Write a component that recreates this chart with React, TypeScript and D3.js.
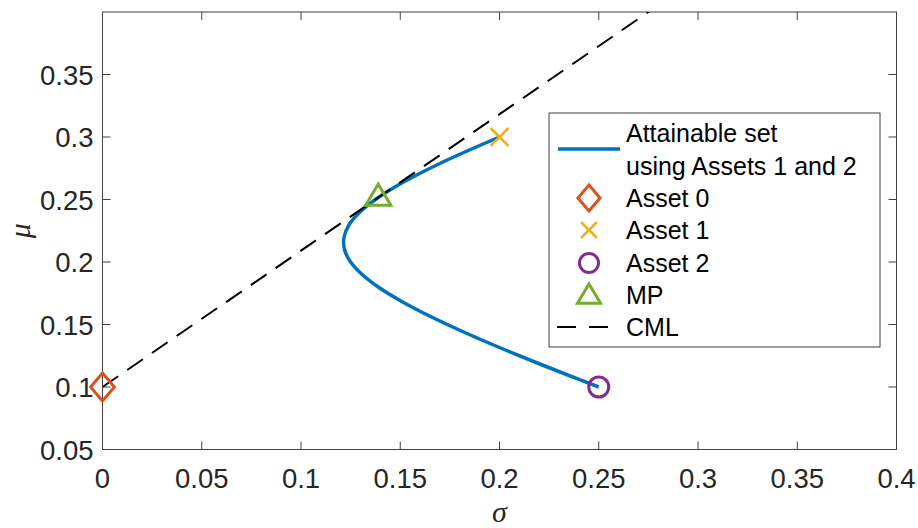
import * as d3 from "d3";

// attainable set: sigma / mu pairs
const curveSigma = [0.25, 0.2337, 0.2178, 0.2024, 0.1876, 0.1737, 0.1607, 0.149, 0.1389, 0.1308, 0.125,
  0.1219, 0.1217, 0.1243, 0.1297, 0.1375, 0.1473, 0.1588, 0.1715, 0.1854, 0.2];
const curveMu = [0.1, 0.11, 0.12, 0.13, 0.14, 0.15, 0.16, 0.17, 0.18, 0.19, 0.2,
  0.21, 0.22, 0.23, 0.24, 0.25, 0.26, 0.27, 0.28, 0.29, 0.3];

const asset0 = [0, 0.1];
const asset1 = [0.2, 0.3];
const asset2 = [0.25, 0.1];
const mp = [0.1389, 0.2515];
const cmlSigma = [0, 0.4];
const cmlMu = [0.1, 0.5364];

const xTicks = [0, 0.05, 0.1, 0.15, 0.2, 0.25, 0.3, 0.35, 0.4];
const yTicks = [0.05, 0.1, 0.15, 0.2, 0.25, 0.3, 0.35];

const legendLabels = ["Attainable set", "using Assets 1 and 2", "Asset 0", "Asset 1", "Asset 2", "MP", "CML"];

const W = 918, H = 528;
const left = 102.5, right = 896.5, top = 12, bottom = 449.5;
const axisColor = "#404040";
const font = "'Liberation Sans', Arial, Helvetica, sans-serif";

const blue = "#0072BD", orange = "#D95319", yellow = "#EDB120", purple = "#7E2F8E", green = "#77AC30";

function Diamond({ x, y, s = 14 }: { x: number; y: number; s?: number }) {
  return <path d={`M${x},${y - s}L${x + s * 0.85},${y}L${x},${y + s}L${x - s * 0.85},${y}Z`} fill="none" stroke={orange} strokeWidth={3} />;
}
function Cross({ x, y, s = 9 }: { x: number; y: number; s?: number }) {
  return <path d={`M${x - s},${y - s}L${x + s},${y + s}M${x - s},${y + s}L${x + s},${y - s}`} stroke={yellow} strokeWidth={2.5} />;
}
function Circle({ x, y, r = 10 }: { x: number; y: number; r?: number }) {
  return <circle cx={x} cy={y} r={r} fill="none" stroke={purple} strokeWidth={3} />;
}
function Triangle({ x, y, s = 12 }: { x: number; y: number; s?: number }) {
  return <path d={`M${x},${y - s}L${x + s * 1.05},${y + s * 0.75}L${x - s * 1.05},${y + s * 0.75}Z`} fill="none" stroke={green} strokeWidth={3} strokeLinejoin="miter" />;
}

export default function App() {
  const x = d3.scaleLinear().domain([0, 0.4]).range([left, right]);
  const y = d3.scaleLinear().domain([0.05, 0.4]).range([bottom, top]);

  const curvePts: [number, number][] = curveSigma.map((s, i) => [s, curveMu[i]]);
  const line = d3.line<[number, number]>().x(d => x(d[0])).y(d => y(d[1])).curve(d3.curveCatmullRom);
  const cmlPts: [number, number][] = cmlSigma.map((s, i) => [s, cmlMu[i]]);
  const straight = d3.line<[number, number]>().x(d => x(d[0])).y(d => y(d[1]));

  const lgX = 549, lgY = 113, lgW = 331, lgH = 234;
  const rowY = [133, 166, 198, 230, 263, 295, 327];
  const mkX = 589, txtX = 626;

  return (
    <svg width={W} height={H} style={{ position: "absolute", left: 0, top: 0, background: "#fff" }}>
      <defs>
        <clipPath id="plotClip">
          <rect x={left} y={top} width={right - left} height={bottom - top} />
        </clipPath>
      </defs>
      <rect x={0} y={0} width={W} height={H} fill="#fff" />

      {/* box and ticks */}
      <rect x={left} y={top} width={right - left} height={bottom - top} fill="none" stroke={axisColor} strokeWidth={1} />
      {xTicks.map(t => (
        <g key={"x" + t}>
          <line x1={x(t)} x2={x(t)} y1={bottom} y2={bottom - 8} stroke={axisColor} />
          <line x1={x(t)} x2={x(t)} y1={top} y2={top + 8} stroke={axisColor} />
          <text x={x(t)} y={bottom + 38} textAnchor="middle" fontFamily={font} fontSize={27.5} fill="#262626">{t}</text>
        </g>
      ))}
      {yTicks.map(t => (
        <g key={"y" + t}>
          <line x1={left} x2={left + 8} y1={y(t)} y2={y(t)} stroke={axisColor} />
          <line x1={right} x2={right - 8} y1={y(t)} y2={y(t)} stroke={axisColor} />
          <text x={left - 9} y={y(t) + 10} textAnchor="end" fontFamily={font} fontSize={27.5} fill="#262626">{t}</text>
        </g>
      ))}
      <text x={(left + right) / 2} y={522} textAnchor="middle" fontFamily="'Liberation Serif', 'DejaVu Serif', serif" fontStyle="italic" fontSize={30} fill="#262626">σ</text>
      <text transform={`translate(30, ${(top + bottom) / 2}) rotate(-90)`} textAnchor="middle" fontFamily="'Liberation Serif', 'DejaVu Serif', serif" fontStyle="italic" fontSize={30} fill="#262626">μ</text>

      {/* data */}
      <g clipPath="url(#plotClip)">
        <path d={line(curvePts) || ""} fill="none" stroke={blue} strokeWidth={3.5} />
        <path d={straight(cmlPts) || ""} fill="none" stroke="#000" strokeWidth={2} strokeDasharray="19 11" />
      </g>
      <Diamond x={x(asset0[0])} y={y(asset0[1])} />
      <Cross x={x(asset1[0])} y={y(asset1[1])} />
      <Circle x={x(asset2[0])} y={y(asset2[1])} />
      <Triangle x={x(mp[0])} y={y(mp[1]) - 1.5} />

      {/* legend */}
      <rect x={lgX} y={lgY} width={lgW} height={lgH} fill="#fff" stroke={axisColor} strokeWidth={1} />
      <line x1={558} x2={620} y1={149} y2={149} stroke={blue} strokeWidth={3.5} />
      <Diamond x={mkX} y={rowY[2]} s={13} />
      <Cross x={mkX} y={rowY[3]} s={8} />
      <Circle x={mkX} y={rowY[4]} r={9.5} />
      <Triangle x={mkX} y={rowY[5]} s={11} />
      <line x1={557} x2={609} y1={rowY[6]} y2={rowY[6]} stroke="#000" strokeWidth={2} strokeDasharray="19 13" />
      {legendLabels.map((l, i) => (
        <text key={l} x={txtX} y={rowY[i] + 9} fontFamily={font} fontSize={25} fill="#000">{l}</text>
      ))}
    </svg>
  );
}
